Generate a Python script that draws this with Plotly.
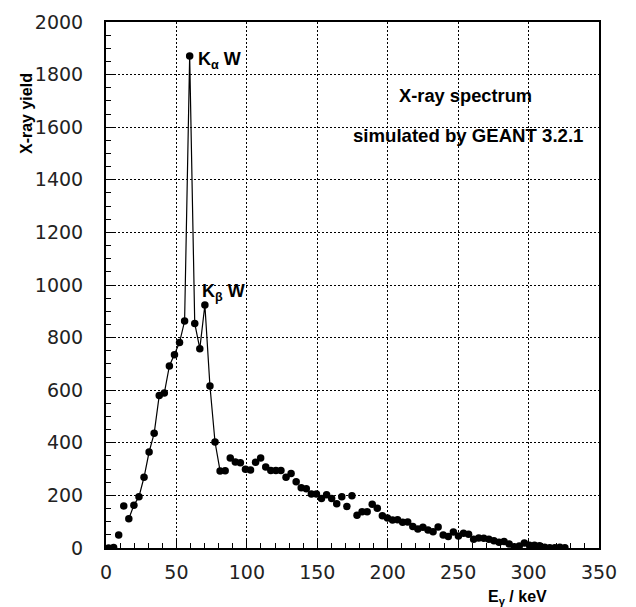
import plotly.graph_objects as go

# Bin centres (keV) and simulated yields
energy_keV = [1.8, 5.4, 9.0, 12.6, 16.2, 19.8, 23.4, 27.0, 30.6, 34.2,
              37.8, 41.4, 45.0, 48.6, 52.2, 55.8, 59.4, 63.0, 66.6, 70.2,
              73.8, 77.4, 81.0, 84.6, 88.2, 91.8, 95.4, 99.0, 102.6, 106.2,
              109.8, 113.4, 117.0, 120.6, 124.2, 127.8, 131.4, 135.0, 138.6, 142.2,
              145.8, 149.4, 153.0, 156.6, 160.2, 163.8, 167.4, 171.0, 174.6, 178.2,
              181.8, 185.4, 189.0, 192.6, 196.2, 199.8, 203.4, 207.0, 210.6, 214.2,
              217.8, 221.4, 225.0, 228.6, 232.2, 235.8, 239.4, 243.0, 246.6, 250.2,
              253.8, 257.4, 261.0, 264.6, 268.2, 271.8, 275.4, 279.0, 282.6, 286.2,
              289.8, 293.4, 297.0, 300.6, 304.2, 307.8, 311.4, 315.0, 318.6, 322.2,
              325.8]
yield_counts = [0, 2, 49, 160, 111, 163, 195, 269, 365, 436,
                580, 589, 692, 735, 781, 863, 1871, 854, 758, 924,
                616, 403, 293, 294, 342, 327, 324, 299, 297, 326,
                342, 308, 295, 295, 295, 269, 283, 252, 229, 225,
                205, 205, 188, 202, 188, 168, 195, 158, 199, 125,
                138, 138, 166, 151, 123, 114, 106, 107, 98, 99,
                82, 72, 79, 68, 62, 80, 49, 44, 61, 46,
                56, 52, 33, 38, 37, 33, 28, 22, 25, 15,
                5, 8, 19, 10, 10, 9, 3, 1, 1, 3,
                1]
# Points joined by the guiding line (peak region)
line_start, line_end = 4, 22

x_ticks = [0, 50, 100, 150, 200, 250, 300, 350]
y_ticks = [0, 200, 400, 600, 800, 1000, 1200, 1400, 1600, 1800, 2000]

W, H = 636, 607
L, R, T, B = 106, 37, 22, 59
pw, ph = W - L - R, H - T - B

fig = go.Figure()
fig.add_trace(go.Scatter(
    x=energy_keV[line_start:line_end + 1],
    y=yield_counts[line_start:line_end + 1],
    mode="lines", line=dict(color="black", width=1.2),
    hoverinfo="skip", showlegend=False))
fig.add_trace(go.Scatter(
    x=energy_keV, y=yield_counts, mode="markers",
    marker=dict(color="black", size=7.5, line=dict(width=0)),
    showlegend=False))

FONT = "Liberation Sans, Arial, sans-serif"
label_font = dict(family=FONT, size=18, color="black")
fig.add_annotation(x=64.2, y=1853, xref="x", yref="y", xanchor="left", yanchor="middle",
                   text="<b>K<sub>α</sub> W</b>", showarrow=False, font=label_font)
fig.add_annotation(x=66.5, y=971, xref="x", yref="y", xanchor="left", yanchor="middle",
                   text="<b>K<sub>β</sub> W</b>", showarrow=False, font=label_font)
fig.add_annotation(x=255.5, y=1722, xref="x", yref="y", xanchor="center", yanchor="middle",
                   text="<b>X-ray spectrum</b>", showarrow=False,
                   font=dict(family=FONT, size=18.3, color="black"))
fig.add_annotation(x=257, y=1570, xref="x", yref="y", xanchor="center", yanchor="middle",
                   text="<b>simulated by GEANT 3.2.1</b>", showarrow=False,
                   font=dict(family=FONT, size=18.6, color="black"))


def px_to_paper(px, py):
    return (px - L) / pw, 1 - (py - T) / ph


# Axis titles (positioned in pixels, converted to paper coordinates)
ax_, ay_ = px_to_paper(27, 114)
fig.add_annotation(x=ax_, y=ay_, xref="paper", yref="paper", text="<b>X-ray yield</b>",
                   textangle=-90, showarrow=False, xanchor="center", yanchor="middle",
                   font=dict(family=FONT, size=16, color="black"))
bx_, by_ = px_to_paper(549, 597)
fig.add_annotation(x=bx_, y=by_, xref="paper", yref="paper",
                   text="<b>E<sub>γ</sub> / keV</b>", showarrow=False,
                   xanchor="right", yanchor="middle",
                   font=dict(family=FONT, size=16, color="black"))

tick_font = dict(family="DejaVu Sans, sans-serif", size=19, color="#222")
fig.update_layout(
    width=W, height=H,
    margin=dict(l=L, r=R, t=T, b=B, pad=0, autoexpand=False),
    paper_bgcolor="white", plot_bgcolor="white",
    xaxis=dict(range=[0, 350], tickvals=x_ticks, ticktext=[str(v) for v in x_ticks],
               ticks="inside", ticklen=9, tickwidth=1.2, tickcolor="black",
               minor=dict(dtick=10, ticks="inside", ticklen=5, tickwidth=1, tickcolor="black",
                          showgrid=False),
               showline=True, linecolor="black", linewidth=2, mirror=True,
               showgrid=True, gridcolor="black", gridwidth=1, griddash="2px,2px",
               zeroline=False, tickfont=tick_font, ticklabelstandoff=6, automargin=False),
    yaxis=dict(range=[0, 2000], tickvals=y_ticks, ticktext=[str(v) for v in y_ticks],
               ticks="inside", ticklen=9, tickwidth=1.2, tickcolor="black",
               minor=dict(dtick=50, ticks="inside", ticklen=5, tickwidth=1, tickcolor="black",
                          showgrid=False),
               showline=True, linecolor="black", linewidth=2, mirror=True,
               showgrid=True, gridcolor="black", gridwidth=1, griddash="2px,2px",
               zeroline=False, tickfont=tick_font, ticklabelstandoff=17, automargin=False),
)
fig.write_html("out.html", config={"displayModeBar": False},
               post_script="document.body.style.margin='0';document.body.style.padding='0';")
